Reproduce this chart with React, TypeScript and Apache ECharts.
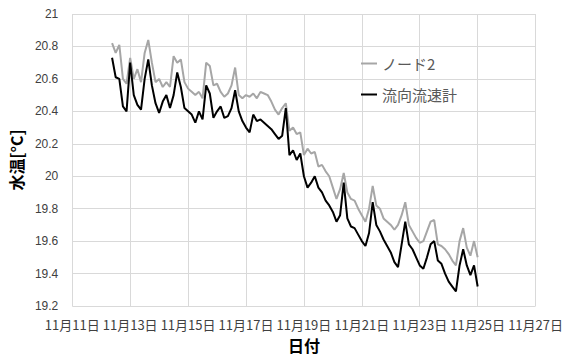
import React, { useEffect, useRef } from "react";
import * as echarts from "echarts";

// Sampling: hours since 11/11 00:00, first sample and step
const START_HOUR = 33;
const STEP_HOURS = 3;

const seriesNames = ["ノード2", "流向流速計"];

const node2Values = [
  20.82, 20.76, 20.81, 20.6, 20.57, 20.73, 20.6, 20.66, 20.58, 20.76,
  20.84, 20.7, 20.58, 20.6, 20.55, 20.58, 20.55, 20.74, 20.7, 20.72,
  20.58, 20.54, 20.52, 20.5, 20.52, 20.48, 20.7, 20.68, 20.56, 20.57,
  20.52, 20.49, 20.51, 20.56, 20.67, 20.5, 20.48, 20.5, 20.49, 20.51,
  20.48, 20.52, 20.51, 20.5, 20.46, 20.41, 20.38, 20.42, 20.45, 20.28,
  20.3, 20.26, 20.27, 20.13, 20.17, 20.14, 20.15, 20.06, 20.07, 20.03,
  20.0, 19.93, 19.86, 19.92, 20.02, 19.9, 19.86, 19.85, 19.8, 19.76,
  19.72, 19.8, 19.94, 19.82, 19.8, 19.74, 19.72, 19.7, 19.67, 19.7,
  19.76, 19.84, 19.7, 19.66, 19.62, 19.59, 19.6, 19.66, 19.72, 19.73,
  19.58, 19.57, 19.55, 19.52, 19.48, 19.45, 19.6, 19.68, 19.56, 19.51,
  19.6, 19.5,
];

const meterValues = [
  20.73, 20.61, 20.6, 20.43, 20.4, 20.7, 20.5, 20.44, 20.41, 20.6,
  20.72, 20.56, 20.45, 20.39, 20.46, 20.5, 20.42, 20.5, 20.64, 20.55,
  20.42, 20.4, 20.38, 20.33, 20.4, 20.35, 20.56, 20.51, 20.36, 20.4,
  20.43, 20.36, 20.37, 20.42, 20.53, 20.4, 20.34, 20.3, 20.27, 20.38,
  20.34, 20.35, 20.33, 20.31, 20.29, 20.26, 20.23, 20.25, 20.42, 20.13,
  20.16, 20.1, 20.14, 20.0, 19.93, 19.96, 20.0, 19.93, 19.9, 19.85,
  19.82, 19.78, 19.72, 19.76, 19.96, 19.74, 19.69, 19.68, 19.64, 19.6,
  19.57, 19.65, 19.84, 19.7, 19.66, 19.61, 19.57, 19.53, 19.47, 19.44,
  19.58, 19.72, 19.58, 19.55, 19.5, 19.45, 19.43, 19.5, 19.58, 19.6,
  19.48, 19.46, 19.4, 19.35, 19.32, 19.29, 19.45, 19.55, 19.45, 19.39,
  19.45, 19.32,
];

const xTickDays = [11, 13, 15, 17, 19, 21, 23, 25, 27];

const toPairs = (vals: number[]) =>
  vals.map((v, i) => [START_HOUR + i * STEP_HOURS, v]);

export default function App() {
  const ref = useRef<HTMLDivElement>(null);
  useEffect(() => {
    if (!ref.current) return;
    const chart = echarts.init(ref.current, null, { renderer: "svg" });
    const font = "'Noto Sans CJK JP', 'Noto Sans', sans-serif";
    chart.setOption({
      animation: false,
      backgroundColor: "#ffffff",
      grid: { left: 68.6, right: 28, top: 14, bottom: 51, containLabel: false },
      legend: {
        orient: "vertical",
        left: 356,
        top: 51,
        itemWidth: 16,
        itemHeight: 2,
        itemGap: 16,
        icon: "rect",
        textStyle: { fontFamily: font, fontSize: 15, color: "#595959" },
        data: seriesNames,
      },
      xAxis: {
        type: "value",
        min: 0,
        max: 384,
        interval: 48,
        name: "日付",
        nameLocation: "middle",
        nameGap: 31,
        nameTextStyle: { fontFamily: font, fontSize: 16, fontWeight: "bold", color: "#000" },
        axisLine: { show: false },
        axisTick: { show: false },
        splitLine: { show: true, lineStyle: { color: "#d9d9d9", width: 1 } },
        axisLabel: {
          margin: 12,
          fontFamily: font,
          fontSize: 13,
          color: "#404040",
          formatter: (v: number) => {
            const d = 11 + v / 24;
            return xTickDays.includes(d) ? `11月${d}日` : "";
          },
        },
      },
      yAxis: {
        type: "value",
        min: 19.2,
        max: 21,
        interval: 0.2,
        name: "水温[°C]",
        nameLocation: "middle",
        nameRotate: 90,
        nameGap: 40,
        nameTextStyle: { fontFamily: font, fontSize: 16, fontWeight: "bold", color: "#000" },
        axisLine: { show: false },
        axisTick: { show: false },
        splitLine: { show: true, lineStyle: { color: "#d9d9d9", width: 1 } },
        axisLabel: {
          margin: 14,
          fontFamily: "'Liberation Sans', 'Noto Sans', sans-serif",
          fontSize: 12,
          color: "#404040",
          formatter: (v: number) => String(Math.round(v * 10) / 10),
        },
      },
      series: [
        {
          name: seriesNames[0],
          type: "line",
          data: toPairs(node2Values),
          showSymbol: false,
          symbol: "none",
          lineStyle: { color: "#a6a6a6", width: 2 },
          itemStyle: { color: "#a6a6a6" },
        },
        {
          name: seriesNames[1],
          type: "line",
          data: toPairs(meterValues),
          showSymbol: false,
          symbol: "none",
          lineStyle: { color: "#000000", width: 2 },
          itemStyle: { color: "#000000" },
        },
      ],
    });
    return () => chart.dispose();
  }, []);
  return (
    <div
      ref={ref}
      style={{ position: "fixed", left: 0, top: 0, width: 566, height: 358 }}
    />
  );
}
